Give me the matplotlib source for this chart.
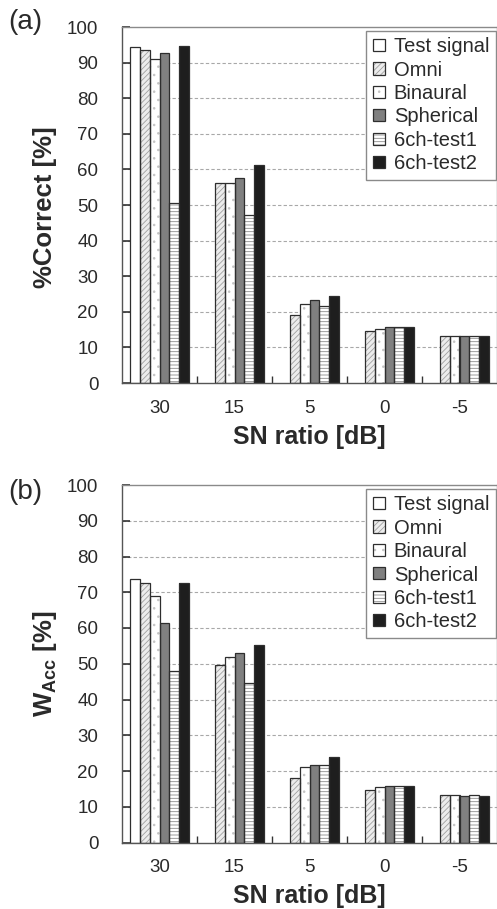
import numpy as np
import matplotlib
matplotlib.use("Agg")
import matplotlib.pyplot as plt
from matplotlib.patches import Patch
from matplotlib.legend_handler import HandlerTuple

plt.rcParams['font.family'] = ['Liberation Sans', 'DejaVu Sans']
plt.rcParams['mathtext.fontset'] = 'custom'
plt.rcParams['mathtext.rm'] = 'Liberation Sans'
plt.rcParams['mathtext.bf'] = 'Liberation Sans:bold'
plt.rcParams['hatch.linewidth'] = 0.6

# =========================
# DATA
# =========================
nan = np.nan
snr_labels = ["30", "15", "5", "0", "-5"]
series_names = ["Test signal", "Omni", "Binaural", "Spherical", "6ch-test1", "6ch-test2"]

# (a) %Correct
correct_test      = [94.5, nan, nan, nan, nan]
correct_omni      = [93.5, 56.3, 19.0, 14.7, 13.3]
correct_binaural  = [91.0, 56.3, 22.2, 15.2, 13.3]
correct_spherical = [92.7, 57.6, 23.3, 15.7, 13.1]
correct_6ch1      = [50.7, 47.2, 21.6, 15.7, 13.3]
correct_6ch2      = [94.7, 61.3, 24.3, 15.7, 13.1]

# (b) W_Acc
wacc_test      = [73.7, nan, nan, nan, nan]
wacc_omni      = [72.6, 49.6, 18.1, 14.8, 13.3]
wacc_binaural  = [68.9, 51.9, 21.2, 15.4, 13.3]
wacc_spherical = [61.4, 53.1, 21.7, 15.8, 13.1]
wacc_6ch1      = [48.1, 44.6, 21.7, 15.8, 13.3]
wacc_6ch2      = [72.7, 55.3, 24.0, 15.8, 13.1]

# =========================
# STYLES  (face, hatch, hatch colour)
# =========================
styles = [
    ("white",   "",       "#999999"),
    ("#ececec", "//////", "#a0a0a0"),
    ("white",   "..",     "#c4c4c4"),
    ("#808080", "",       "#808080"),
    ("white",   "-----",  "#8c8c8c"),
    ("#1e1e1e", "",       "#1e1e1e"),
]
EDGE = "#2e2e2e"
TXT = "#2a2a2a"
BAR_W = 0.133

W, H = 497, 909
fig = plt.figure(figsize=(W / 100, H / 100), dpi=100)


def panel(ax_rect, data, ylab, ylab_y, tag, tag_y):
    ax = fig.add_axes(ax_rect)
    x = np.arange(len(snr_labels))
    for i, (vals, (fc, hatch, hc)) in enumerate(zip(data, styles)):
        pos = x + (i - 2.5) * BAR_W
        ax.bar(pos, vals, BAR_W, color=fc, hatch=hatch, edgecolor=hc,
               linewidth=0, zorder=2)
        ax.bar(pos, vals, BAR_W, fill=False, edgecolor=EDGE,
               linewidth=0.9, zorder=3)

    ax.set_xlim(-0.5, len(snr_labels) - 0.5)
    ax.set_ylim(0, 100)
    ax.set_yticks(np.arange(0, 101, 10))
    ax.set_xticks(x)
    ax.set_xticklabels(snr_labels)
    ax.set_xticks(x[:-1] + 0.5, minor=True)
    ax.tick_params(axis="y", direction="in", length=6, width=1.2,
                   color="#333333", pad=17, labelsize=13.5, labelcolor=TXT)
    ax.tick_params(axis="x", which="major", length=0, pad=12,
                   labelsize=13.5, labelcolor=TXT)
    ax.tick_params(axis="x", which="minor", direction="in", length=5,
                   width=1.0, color="#333333")

    for yv in range(10, 100, 10):
        ax.axhline(yv, color="#a8a8a8", linewidth=0.8,
                   linestyle=(0, (3, 2)), zorder=1)

    for s in ax.spines.values():
        s.set_color("#8a8a8a")
        s.set_linewidth(1.0)
    ax.spines["left"].set_color("#555555")
    ax.spines["bottom"].set_color("#555555")

    ax.set_xlabel("SN ratio [dB]", fontsize=18, fontweight="bold",
                  labelpad=6, color=TXT)

    fig.text(45 / W, 1 - ylab_y / H, ylab, rotation=90, ha="center",
             va="center", fontsize=18.5, fontweight="bold", color=TXT)
    fig.text(8 / W, 1 - tag_y / H, tag, ha="left", va="center",
             fontsize=20, color=TXT)

    handles = [(Patch(facecolor=fc, hatch=h, edgecolor=hc, linewidth=0),
                Patch(fill=False, edgecolor=EDGE, linewidth=0.9))
               for fc, h, hc in styles]
    leg = ax.legend(handles, series_names, loc="upper right",
                    bbox_to_anchor=(0.997, 0.99), fontsize=14.5,
                    handler_map={tuple: HandlerTuple(ndivide=1)},
                    handlelength=0.6, handleheight=0.55, handletextpad=0.45,
                    labelspacing=0.22, borderpad=0.33, borderaxespad=0.0,
                    fancybox=False, framealpha=1.0)
    leg.get_frame().set_edgecolor("#8a8a8a")
    leg.get_frame().set_linewidth(1.0)
    for t in leg.get_texts():
        t.set_color(TXT)
    return ax


panel([122 / W, 1 - 383 / H, 375 / W, 356 / H],
      [correct_test, correct_omni, correct_binaural,
       correct_spherical, correct_6ch1, correct_6ch2],
      "%Correct [%]", 207, "(a)", 22)

panel([122 / W, 1 - 842.5 / H, 375 / W, 357.5 / H],
      [wacc_test, wacc_omni, wacc_binaural,
       wacc_spherical, wacc_6ch1, wacc_6ch2],
      r"W$_{\mathbf{Acc}}$ [%]", 664, "(b)", 492)

fig.savefig("out.png", dpi=100)
